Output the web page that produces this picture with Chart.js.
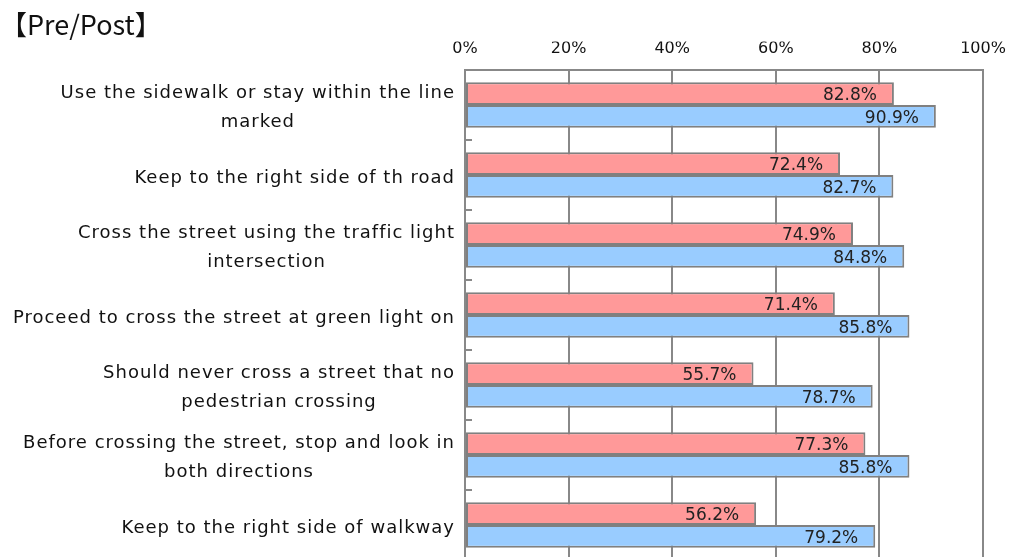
<!DOCTYPE html>
<html>
<head>
<meta charset="utf-8">
<script src="https://cdn.jsdelivr.net/npm/chart.js@4.4.1/dist/chart.umd.min.js"></script>
<style>
  html, body { margin: 0; padding: 0; background: #fff; overflow: hidden; }
  #wrap { width: 1011px; height: 600px; position: relative; }
</style>
</head>
<body>
<div id="wrap"><canvas id="prePostChart"></canvas></div>
<script>
// Survey items (multi-line labels are arrays)
const categories = [
    ['Use the sidewalk or stay within the line', 'marked'],
    'Keep to the right side of th road',
    ['Cross the street using the traffic light', 'intersection'],
    'Proceed to cross the street at green light on',
    ['Should never cross a street that no', 'pedestrian crossing'],
    ['Before crossing the street, stop and look in', 'both directions'],
    'Keep to the right side of walkway'
];
const preValues  = [82.8, 72.4, 74.9, 71.4, 55.7, 77.3, 56.2];
const postValues = [90.9, 82.7, 84.8, 85.8, 78.7, 85.8, 79.2];
const xTicks = [0, 20, 40, 60, 80, 100];

const LINE_GRAY = '#888888';
const LABEL_FONT = "'DejaVu Sans', sans-serif";

// value text at the inner end of every bar
const barValueLabels = {
    id: 'barValueLabels',
    afterDatasetsDraw(chart) {
        const ctx = chart.ctx;
        ctx.save();
        ctx.font = '17px ' + LABEL_FONT;
        ctx.fillStyle = '#222';
        ctx.textAlign = 'right';
        ctx.textBaseline = 'middle';
        chart.data.datasets.forEach((ds, di) => {
            chart.getDatasetMeta(di).data.forEach((bar, i) => {
                ctx.fillText(ds.data[i].toFixed(1) + '%', bar.x - 17, bar.y + 2);
            });
        });
        ctx.restore();
    }
};

// category labels: block right-aligned next to the axis, lines centred inside the block
const categoryLabels = {
    id: 'categoryLabels',
    afterDraw(chart) {
        const ctx = chart.ctx;
        const yScale = chart.scales.y;
        const lineH = 29;
        ctx.save();
        ctx.font = '18px ' + LABEL_FONT;
        ctx.letterSpacing = '1px';
        ctx.fillStyle = '#111';
        ctx.textAlign = 'center';
        ctx.textBaseline = 'middle';
        chart.data.labels.forEach((lbl, i) => {
            const lines = Array.isArray(lbl) ? lbl : [lbl];
            const w = Math.max(...lines.map(l => ctx.measureText(l).width));
            const cx = chart.chartArea.left - 10 - w / 2;
            const cy = yScale.getPixelForValue(i) + 3;
            lines.forEach((l, k) => {
                ctx.fillText(l, cx, cy + (k - (lines.length - 1) / 2) * lineH);
            });
        });
        ctx.restore();
    }
};

// short ticks inside the plot between categories
const innerTicks = {
    id: 'innerTicks',
    afterDraw(chart) {
        const ctx = chart.ctx;
        const yScale = chart.scales.y;
        const left = chart.chartArea.left;
        ctx.save();
        ctx.strokeStyle = LINE_GRAY;
        ctx.lineWidth = 2;
        for (let i = 1; i < categories.length; i++) {
            const y = Math.round((yScale.getPixelForValue(i - 1) + yScale.getPixelForValue(i)) / 2);
            ctx.beginPath();
            ctx.moveTo(left, y);
            ctx.lineTo(left + 7, y);
            ctx.stroke();
        }
        ctx.restore();
    }
};

new Chart(document.getElementById('prePostChart'), {
    type: 'bar',
    data: {
        labels: categories,
        datasets: [
            {
                label: 'Pre',
                data: preValues,
                backgroundColor: '#FF9999',
                borderColor: '#808080',
                borderWidth: 2,
                borderSkipped: false,
                categoryPercentage: 0.65,
                barPercentage: 1.0
            },
            {
                label: 'Post',
                data: postValues,
                backgroundColor: '#99CCFF',
                borderColor: '#808080',
                borderWidth: 2,
                borderSkipped: false,
                categoryPercentage: 0.65,
                barPercentage: 1.0
            }
        ]
    },
    options: {
        indexAxis: 'y',
        responsive: true,
        maintainAspectRatio: false,
        animation: false,
        layout: { padding: { left: 0, right: 28, top: 0, bottom: 40 } },
        scales: {
            x: {
                position: 'top',
                min: 0,
                max: 100,
                afterBuildTicks: scale => { scale.ticks = xTicks.map(v => ({ value: v })); },
                afterFit: scale => {
                    scale.height = 28.6;
                    scale.paddingLeft = 0;
                    scale.paddingRight = 0;
                },
                ticks: {
                    callback: v => v + '%',
                    font: { family: LABEL_FONT, size: 16 },
                    color: '#111',
                    padding: 12
                },
                grid: { color: LINE_GRAY, lineWidth: 2, drawTicks: false },
                border: { display: true, color: LINE_GRAY, width: 2 }
            },
            y: {
                afterFit: scale => { scale.width = 465; },
                ticks: { display: false },
                grid: { drawOnChartArea: false, drawTicks: false },
                border: { display: true, color: LINE_GRAY, width: 2 }
            }
        },
        plugins: {
            legend: { display: false },
            tooltip: { enabled: false },
            title: {
                display: true,
                text: '【Pre/Post】',
                align: 'start',
                color: '#111',
                font: { family: "'Noto Sans CJK JP', sans-serif", size: 27, weight: 'normal' },
                padding: { top: 9, bottom: 0 }
            }
        }
    },
    plugins: [barValueLabels, categoryLabels, innerTicks]
});
</script>
</body>
</html>
